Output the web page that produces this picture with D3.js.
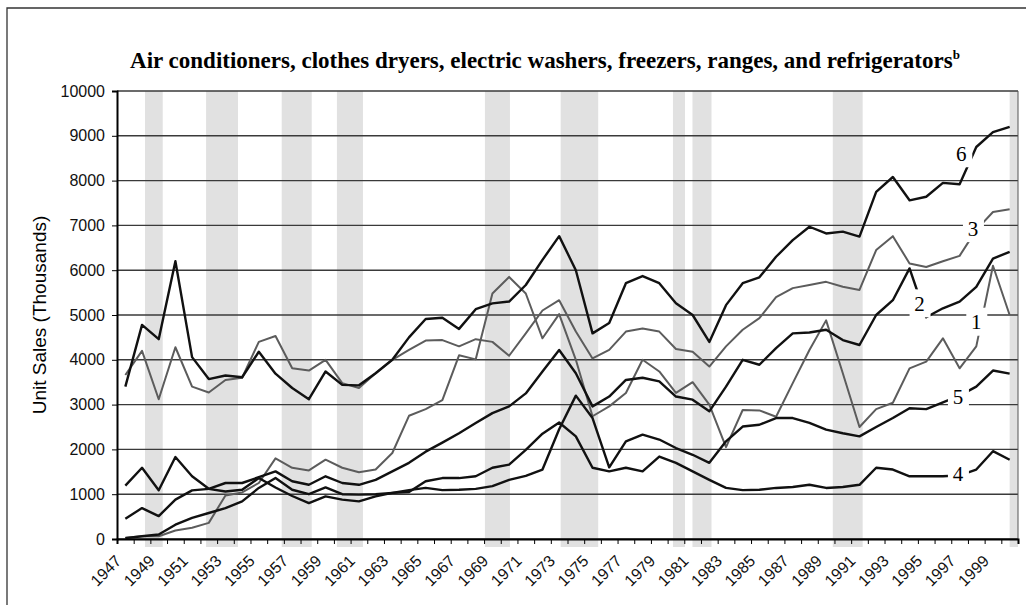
<!DOCTYPE html>
<html>
<head>
<meta charset="utf-8">
<script src="https://cdn.jsdelivr.net/npm/d3@7/dist/d3.min.js"></script>
<style>
  body { margin: 0; background: #fff; }
  .ticks text { font-family: "Liberation Sans", Arial, sans-serif; font-size: 16px; fill: #111; }
</style>
</head>
<body>
<svg id="chart" width="1026" height="605"></svg>
<script>

// data (thousands of units)
var years = d3.range(1947, 2001);
var yTicks = d3.range(0, 10001, 1000);
var xLabels = d3.range(1947, 2000, 2);

var series1 = [30, 60, 60, 190, 250, 360, 970, 1040, 1250, 1800, 1590, 1530, 1770, 1590, 1490, 1550, 1920, 2750, 2900, 3100,
  4100, 4010, 5480, 5850, 5480, 4480, 5020, 4000, 2740, 2960, 3260, 4000, 3740, 3260, 3500, 3000, 2050, 2880, 2870, 2730,
  3480, 4220, 4880, 3700, 2500, 2900, 3040, 3810, 3960, 4480, 3810, 4300, 6100, 5000];
var series2 = [450, 690, 510, 880, 1085, 1120, 1250, 1250, 1380, 1510, 1290, 1210, 1400, 1250, 1210, 1320, 1510, 1700, 1950, 2150,
  2360, 2590, 2810, 2960, 3250, 3740, 4220, 3700, 2960, 3180, 3550, 3600, 3520, 3180, 3110, 2850, 3400, 4000, 3890, 4260,
  4590, 4610, 4670, 4440, 4330, 5000, 5330, 6040, 4950, 5150, 5300, 5630, 6260, 6410];
var series3 = [3660, 4200, 3120, 4280, 3400, 3270, 3550, 3600, 4400, 4530, 3810, 3760, 4000, 3480, 3370, 3700, 4000, 4220, 4430, 4440,
  4300, 4460, 4400, 4090, 4590, 5100, 5330, 4630, 4030, 4220, 4630, 4700, 4630, 4240, 4180, 3850, 4300, 4670, 4930, 5400,
  5600, 5670, 5740, 5630, 5560, 6450, 6760, 6150, 6070, 6200, 6320, 6900, 7300, 7360];
var series4 = [20, 60, 100, 320, 470, 580, 690, 840, 1140, 1360, 1100, 1000, 1150, 1000, 990, 1000, 1030, 1050, 1290, 1360,
  1360, 1400, 1590, 1660, 1990, 2350, 2600, 2290, 1590, 1510, 1590, 1510, 1840, 1700, 1510, 1320, 1140, 1090, 1100, 1140,
  1160, 1210, 1140, 1160, 1210, 1590, 1550, 1400, 1400, 1400, 1420, 1550, 1960, 1770];
var series5 = [1190, 1590, 1090, 1830, 1400, 1120, 1060, 1100, 1360, 1150, 960, 800, 950, 880, 840, 950, 1030, 1090, 1140, 1090,
  1100, 1120, 1180, 1320, 1410, 1550, 2450, 3200, 2700, 1600, 2180, 2330, 2220, 2030, 1880, 1700, 2180, 2510, 2550, 2700,
  2700, 2590, 2440, 2360, 2290, 2500, 2700, 2920, 2900, 3050, 3200, 3400, 3760, 3690];
var series6 = [3400, 4780, 4460, 6200, 4060, 3570, 3650, 3610, 4180, 3690, 3370, 3120, 3740, 3440, 3430, 3700, 4000, 4500, 4910, 4940,
  4690, 5130, 5260, 5300, 5670, 6230, 6760, 6000, 4590, 4820, 5710, 5870, 5710, 5260, 5000, 4400, 5220, 5710, 5840, 6300,
  6670, 6970, 6820, 6860, 6750, 7750, 8080, 7560, 7640, 7950, 7920, 8750, 9080, 9200];

var seriesNames = ["1", "2", "3", "4", "5", "6"];
var seriesValues = [series1, series2, series3, series4, series5, series6];
var seriesGray = [true, false, true, false, false, false];

// where each number label sits: [year, value]
var labelSpots = [[1998.0, 4850], [1994.6, 5260], [1997.8, 6940], [1996.9, 1470], [1996.9, 3180], [1997.1, 8610]];

// shaded recession bands, in year units
var bandStart = [1948.18, 1951.84, 1956.37, 1959.68, 1968.55, 1973.09, 1979.82, 1980.99, 1989.4, 2000.0];
var bandEnd   = [1949.24, 1953.75, 1958.17, 1961.24, 1970.05, 1975.34, 1980.54, 1982.13, 1991.19, 2000.5];


var svg = d3.select("#chart"),
    margin = {top: 91, right: 8, bottom: 66, left: 117},
    width = +svg.attr("width") - margin.left - margin.right,
    height = +svg.attr("height") - margin.top - margin.bottom;

var x = d3.scaleLinear()
    .domain([1946.5, 2000.5])
    .range([0, width]);

var y = d3.scaleLinear()
    .domain([0, 10000])
    .range([height, 0]);

// outer frame of the scanned page (left and top edges only)
svg.append("path")
    .attr("d", "M7,605V8H1026")
    .attr("fill", "none")
    .attr("stroke", "#333")
    .attr("stroke-width", 1.3);

svg.append("text")
    .attr("x", 545)
    .attr("y", 68)
    .attr("text-anchor", "middle")
    .style("font-family", "'Liberation Serif', 'Times New Roman', serif")
    .style("font-weight", "bold")
    .style("font-size", "23px")
    .text("Air conditioners, clothes dryers, electric washers, freezers, ranges, and refrigerators")
  .append("tspan")
    .attr("dy", -9)
    .style("font-size", "13px")
    .text("b");

var g = svg.append("g")
    .attr("transform", "translate(" + margin.left + "," + margin.top + ")");

g.selectAll(".band")
  .data(d3.range(bandStart.length))
  .enter().append("rect")
    .attr("class", "band")
    .attr("x", function(i) { return x(bandStart[i]); })
    .attr("width", function(i) { return x(bandEnd[i]) - x(bandStart[i]); })
    .attr("y", 0)
    .attr("height", height + 8)
    .attr("fill", "#e1e1e1");

g.selectAll(".grid")
  .data(yTicks)
  .enter().append("line")
    .attr("class", "grid")
    .attr("x1", 0)
    .attr("x2", width)
    .attr("y1", function(d) { return y(d); })
    .attr("y2", function(d) { return y(d); })
    .attr("stroke", "#3a3a3a")
    .attr("stroke-width", 1.4);

// right edge of plot box
g.append("line")
    .attr("x1", width).attr("x2", width)
    .attr("y1", 0).attr("y2", height)
    .attr("stroke", "#555")
    .attr("stroke-width", 1);

var line = d3.line()
    .x(function(d, i) { return x(years[i]); })
    .y(function(d) { return y(d); });

g.selectAll(".series")
  .data(seriesValues)
  .enter().append("path")
    .attr("class", "series")
    .attr("d", line)
    .attr("fill", "none")
    .attr("stroke", function(d, i) { return seriesGray[i] ? "#5c5c5c" : "#111"; })
    .attr("stroke-width", function(d, i) { return seriesGray[i] ? 2 : 2.4; })
    .attr("stroke-linejoin", "round");

// number labels sit on white patches that break the lines
var labels = g.selectAll(".lab")
  .data(seriesNames)
  .enter().append("g")
    .attr("class", "lab")
    .attr("transform", function(d, i) {
      return "translate(" + x(labelSpots[i][0]) + "," + y(labelSpots[i][1]) + ")";
    });

labels.append("rect")
    .attr("x", -10)
    .attr("y", -14)
    .attr("width", 21)
    .attr("height", 28)
    .attr("fill", "#fff");

labels.append("text")
    .attr("text-anchor", "middle")
    .attr("dy", "0.36em")
    .style("font-family", "'Liberation Serif', 'Times New Roman', serif")
    .style("font-size", "21px")
    .text(function(d) { return d; });

// axes
var yAxis = g.append("g")
    .attr("class", "ticks")
    .call(d3.axisLeft(y).tickValues(yTicks).tickSize(5).tickPadding(7).tickFormat(d3.format("d")));

var xAxis = g.append("g")
    .attr("class", "ticks")
    .attr("transform", "translate(0," + height + ")")
    .call(d3.axisBottom(x).tickValues(d3.range(1946.5, 2000.6, 1)).tickSize(5).tickFormat(""));

yAxis.select(".domain").attr("stroke", "#000").attr("stroke-width", 2);
xAxis.select(".domain").attr("stroke", "#000").attr("stroke-width", 2);

g.append("g")
    .attr("class", "ticks")
  .selectAll("text")
  .data(xLabels)
  .enter().append("text")
    .attr("text-anchor", "end")
    .attr("transform", function(d) {
      return "translate(" + (x(d) - 3) + "," + (height + 23) + ") rotate(-45)";
    })
    .text(function(d) { return d; });

svg.append("text")
    .attr("transform", "translate(46," + (margin.top + height / 2) + ") rotate(-90)")
    .attr("text-anchor", "middle")
    .style("font-family", "'Liberation Sans', Arial, sans-serif")
    .style("font-size", "19px")
    .text("Unit Sales (Thousands)");

</script>
</body>
</html>
